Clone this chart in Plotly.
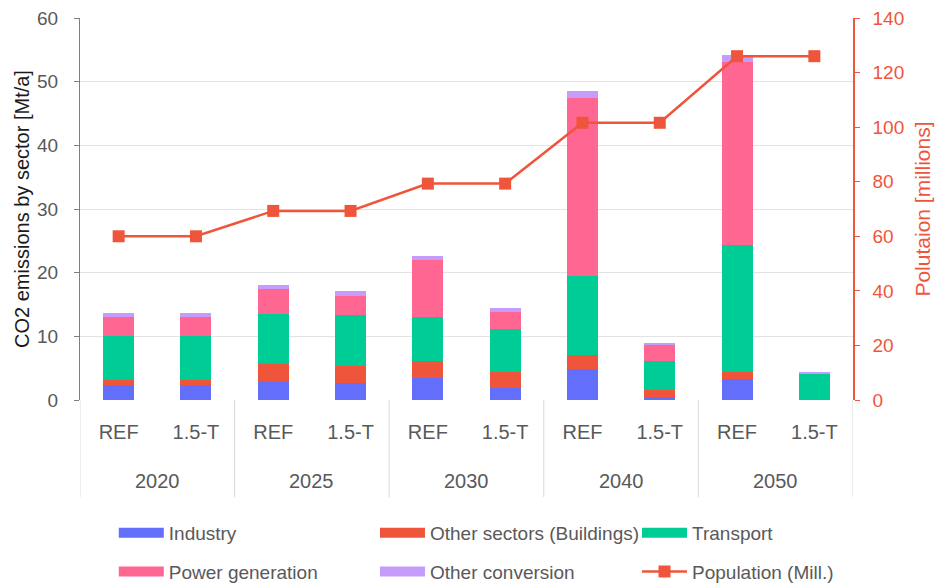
import plotly.graph_objects as go

# Categories
years = ["2020", "2025", "2030", "2040", "2050"]
scenarios = ["REF", "1.5-T"]

# CO2 emissions by sector [Mt/a], one value per (year, scenario) pair
industry = [2.4, 2.4, 2.9, 2.6, 3.4, 1.9, 4.8, 0.4, 3.3, 0.0]
other_sectors = [0.7, 0.7, 2.8, 2.8, 2.8, 2.5, 2.3, 1.1, 1.1, 0.0]
transport = [6.9, 6.9, 7.8, 7.9, 6.8, 6.7, 12.3, 4.7, 19.9, 4.2]
power_generation = [3.0, 3.0, 3.9, 3.1, 9.0, 2.8, 28.1, 2.4, 28.8, 0.0]
other_conversion = [0.6, 0.6, 0.7, 0.7, 0.6, 0.5, 1.1, 0.4, 1.1, 0.2]

# Population [millions]
population = [60, 60, 69.3, 69.3, 79.3, 79.3, 101.6, 101.6, 126, 126]

FONT = "Liberation Sans"
GREY = "#595959"
RED = "#EF553B"
DIVIDER = "#D9D9D9"

# One category per (year, scenario) bar; ticks show the scenario,
# the year is written once under each pair.
categories = [f"{y} {s}" for y in years for s in scenarios]
tick_text = [s for _ in years for s in scenarios]
n_sc = len(scenarios)

sectors = [
    ("Industry", industry, "#636EFA", "legend"),
    ("Other sectors (Buildings)", other_sectors, "#EF553B", "legend2"),
    ("Transport", transport, "#00CC96", "legend3"),
    ("Power generation", power_generation, "#FF6692", "legend"),
    ("Other conversion", other_conversion, "#C69CFB", "legend2"),
]

fig = go.Figure()

for name, vals, color, _ in sectors:
    fig.add_trace(go.Bar(
        x=categories, y=vals, name=name, marker_color=color,
        marker_line_width=0, showlegend=False,
    ))

fig.add_trace(go.Scatter(
    x=categories, y=population, name="Population (Mill.)", yaxis="y2",
    mode="lines+markers", line=dict(color=RED, width=2.5),
    marker=dict(symbol="square", size=12, color=RED),
    showlegend=False,
))

# Legend entries: wide rectangular swatches for the sectors
for name, _, color, leg in sectors:
    fig.add_trace(go.Scatter(
        x=[categories[0]], y=[None], name=name, mode="lines",
        line=dict(color=color, width=10), legend=leg, legendgroup=name,
        hoverinfo="skip",
    ))
fig.add_trace(go.Scatter(
    x=[categories[0]], y=[None], name="Population (Mill.)", yaxis="y2",
    mode="lines+markers", line=dict(color=RED, width=2.5),
    marker=dict(symbol="square", size=12, color=RED),
    legend="legend3", legendgroup="Population (Mill.)", hoverinfo="skip",
))

legend_common = dict(
    orientation="v", yanchor="top", y=-0.298, xanchor="left",
    font=dict(family=FONT, size=19, color=GREY), bgcolor="rgba(0,0,0,0)",
    itemwidth=45, tracegroupgap=11, itemclick=False,
)

# Year labels and group dividers under the category axis
annotations = []
shapes = []
for i, y in enumerate(years):
    annotations.append(dict(
        x=i * n_sc + (n_sc - 1) / 2, xref="x", y=-0.212, yref="paper",
        text=y, showarrow=False, yanchor="middle",
        font=dict(family=FONT, size=20, color=GREY),
    ))
for k in range(len(years) + 1):
    xd = k * n_sc - 0.5
    shapes.append(dict(
        type="line", xref="x", yref="paper", x0=xd, x1=xd, y0=0, y1=-0.254,
        line=dict(color=DIVIDER, width=1),
    ))

fig.update_layout(
    width=936, height=585,
    margin=dict(l=80, r=83, t=18, b=185, autoexpand=False),
    paper_bgcolor="white", plot_bgcolor="white",
    barmode="stack", bargap=0.6,
    font=dict(family=FONT, size=19, color=GREY),
    showlegend=True,
    legend=dict(legend_common, x=0.0437),
    legend2=dict(legend_common, x=0.3816),
    legend3=dict(legend_common, x=0.7206),
    annotations=annotations,
    shapes=shapes,
    xaxis=dict(
        type="category", categoryorder="array", categoryarray=categories,
        tickvals=categories, ticktext=tick_text,
        tickfont=dict(family=FONT, size=20, color=GREY),
        ticks="", ticklabelstandoff=18,
        showline=False, showgrid=False, range=[-0.5, len(categories) - 0.5],
    ),
    yaxis=dict(
        range=[0, 60], dtick=10, showgrid=True, gridcolor="#E3E3E3",
        gridwidth=1, showline=True, linecolor="#7F7F7F", linewidth=1,
        ticks="outside", ticklen=5, tickcolor="#7F7F7F",
        ticklabelstandoff=12,
        tickfont=dict(family=FONT, size=19, color=GREY),
        title=dict(text="CO2 emissions by sector [Mt/a]",
                   font=dict(family=FONT, size=20, color="#1A1A1A"), standoff=2),
        zeroline=False,
    ),
    yaxis2=dict(
        range=[0, 140], dtick=20, overlaying="y", side="right",
        showgrid=False, showline=True, linecolor=RED, linewidth=1.5,
        ticks="outside", ticklen=5, tickcolor=RED,
        ticklabelstandoff=9,
        tickfont=dict(family=FONT, size=19, color=RED),
        title=dict(text="Polutaion [millions]",
                   font=dict(family=FONT, size=21, color=RED), standoff=12),
        zeroline=False,
    ),
)

fig.write_html("out.html")
